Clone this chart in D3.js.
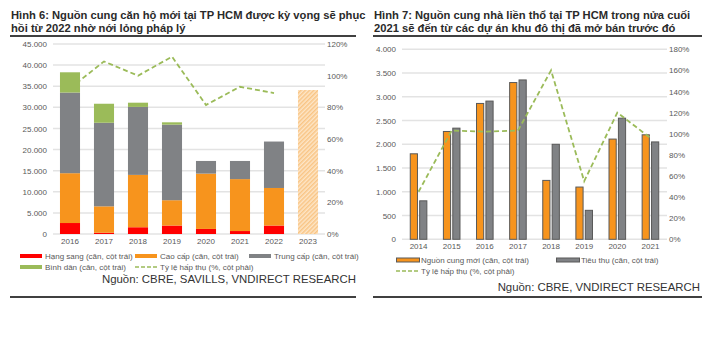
<!DOCTYPE html>
<html>
<head>
<meta charset="utf-8">
<script src="https://cdn.jsdelivr.net/npm/d3@7"></script>
<style>
  body { margin: 0; background: #fff; }
  svg { font-family: "Liberation Sans", Arial, sans-serif; }
  .tick text { fill: #595959; font-size: 8px; }
</style>
</head>
<body>
<div id="chart"></div>
<script>
//-------------------------- DATA --------------------------//
// Hinh 6: can ho (units)
var years6 = ["2016", "2017", "2018", "2019", "2020", "2021", "2022", "2023"];
var hangSang = [2600, 300, 1600, 2000, 1200, 700, 2000, 0];
var caoCap   = [11800, 6250, 12400, 6000, 13100, 12300, 8900, 0];
var trungCap = [19100, 19800, 16100, 17900, 3000, 4300, 11000, 0];
var binhDan  = [4800, 4500, 1000, 550, 0, 0, 0, 0];
var forecast2023 = 34100;
var hapThu6  = [0.92, 1.09, 1.00, 1.12, 0.815, 0.93, 0.89];

// Hinh 7: nha lien tho
var years7 = ["2014", "2015", "2016", "2017", "2018", "2019", "2020", "2021"];
var nguonCung = [1800, 2270, 2860, 3300, 1240, 1100, 2110, 2200];
var tieuThu   = [810, 2340, 2910, 3355, 2000, 610, 2550, 2050];
var hapThu7   = [0.45, 1.03, 1.02, 1.03, 1.60, 0.55, 1.20, 0.96];

var leftTicks6 = d3.range(0, 45001, 5000);
var rightTicks6 = d3.range(0, 1.21, 0.2);
var leftTicks7 = d3.range(0, 4001, 500);
var rightTicks7 = d3.range(0, 1.81, 0.2);

//-------------------------- SETUP --------------------------//
var W = 720, H = 342;
var svg = d3.select("#chart").append("svg")
    .attr("width", W).attr("height", H);

var vn = d3.formatLocale({decimal: ",", thousands: ".", grouping: [3], currency: ["", ""]});
var fmtNum = vn.format(",.0f");
var fmtPct = d3.format(".0%");

var cRed = "#ff0000", cOrange = "#f7941d", cGray = "#808285", cGreen = "#9bbb59";
var grid = "#e3e3e3";

var defs = svg.append("defs");
var pat = defs.append("pattern")
    .attr("id", "hatch")
    .attr("patternUnits", "userSpaceOnUse")
    .attr("width", 3).attr("height", 3)
    .attr("patternTransform", "rotate(45)");
pat.append("rect").attr("width", 3).attr("height", 3).attr("fill", "#fde6c8");
pat.append("rect").attr("width", 1.5).attr("height", 3).attr("fill", "#f9c585");

// title + rules
function header(x, x2, lines) {
    svg.append("text")
        .attr("x", x).attr("y", 19)
        .style("font-size", "11.2px").style("font-weight", "bold").style("fill", "#2a2a2a")
        .selectAll("tspan").data(lines).enter().append("tspan")
        .attr("x", x).attr("dy", function(d, i) { return i ? 13 : 0; })
        .text(function(d) { return d; });
    svg.append("line").attr("x1", x - 1).attr("x2", x2).attr("y1", 36).attr("y2", 36)
        .attr("stroke", "#000").attr("stroke-width", 1.5);
    svg.append("line").attr("x1", x - 1).attr("x2", x2).attr("y1", 297).attr("y2", 297)
        .attr("stroke", "#000").attr("stroke-width", 1.5);
}

function axesAndGrid(x0, x1, y, yR, lt, rt, cats, xs, xLabelY) {
    var g = svg.append("g");
    g.selectAll(".grid").data(lt).enter().append("line")
        .attr("x1", x0).attr("x2", x1)
        .attr("y1", function(d) { return y(d); }).attr("y2", function(d) { return y(d); })
        .attr("stroke", grid).attr("stroke-width", 1.5);

    var la = svg.append("g").attr("transform", "translate(" + (x0 - 4) + ",0)")
        .call(d3.axisLeft(y).tickValues(lt).tickFormat(fmtNum).tickSize(0).tickPadding(2));
    la.select(".domain").remove();

    var ra = svg.append("g").attr("transform", "translate(" + (x1 + 1) + ",0)")
        .call(d3.axisRight(yR).tickValues(rt).tickFormat(fmtPct).tickSize(0).tickPadding(1));
    ra.select(".domain").remove();

    var xa = svg.append("g").attr("transform", "translate(0," + xLabelY + ")")
        .call(d3.axisBottom(xs).tickSize(0).tickPadding(0));
    xa.select(".domain").remove();
}

//-------------------------- HINH 6 --------------------------//
header(11, 356, ["Hình 6: Nguồn cung căn hộ mới tại TP HCM được kỳ vọng sẽ phục",
                 "hồi từ 2022 nhờ nới lỏng pháp lý"]);

var x6 = d3.scaleBand().domain(years6).range([53, 325]);
var y6 = d3.scaleLinear().domain([0, 45000]).range([234, 44]);
var y6r = d3.scaleLinear().domain([0, 1.2]).range([234, 44]);
axesAndGrid(53, 325, y6, y6r, leftTicks6, rightTicks6, years6, x6, 238);

// absorption line (sits behind bars)
var line6 = d3.line()
    .x(function(d, i) { return x6(years6[i]) + x6.bandwidth() / 2; })
    .y(function(d) { return y6r(d); });
svg.append("path").datum(hapThu6)
    .attr("d", line6)
    .attr("fill", "none").attr("stroke", cGreen)
    .attr("stroke-width", 1.8).attr("stroke-dasharray", "5,3");

var series6 = [hangSang, caoCap, trungCap, binhDan];
var colors6 = [cRed, cOrange, cGray, cGreen];
var bw6 = x6.bandwidth() * 0.59;
var stacked = d3.stack().keys([0, 1, 2, 3])
    .value(function(i, k) { return series6[k][i]; })(d3.range(years6.length));

svg.append("g").selectAll("g").data(stacked).enter().append("g")
    .attr("fill", function(d, k) { return colors6[k]; })
    .selectAll("rect").data(function(d) { return d; }).enter().append("rect")
    .attr("x", function(d, i) { return x6(years6[i]) + (x6.bandwidth() - bw6) / 2; })
    .attr("width", bw6)
    .attr("y", function(d) { return y6(d[1]); })
    .attr("height", function(d) { return y6(d[0]) - y6(d[1]); });

svg.append("rect")
    .attr("x", x6("2023") + (x6.bandwidth() - bw6) / 2)
    .attr("width", bw6)
    .attr("y", y6(forecast2023))
    .attr("height", y6(0) - y6(forecast2023))
    .attr("fill", "url(#hatch)");

//-------------------------- HINH 7 --------------------------//
header(374, 702, ["Hình 7: Nguồn cung nhà liền thổ tại TP HCM trong nửa cuối",
                  "2021 sẽ đến từ các dự án khu đô thị đã mở bán trước đó"]);

var x7 = d3.scaleBand().domain(years7).range([402, 667]);
var y7 = d3.scaleLinear().domain([0, 4000]).range([239.3, 49.3]);
var y7r = d3.scaleLinear().domain([0, 1.8]).range([239.3, 49.3]);
axesAndGrid(402, 667, y7, y7r, leftTicks7, rightTicks7, years7, x7, 243);

var line7 = d3.line()
    .x(function(d, i) { return x7(years7[i]) + x7.bandwidth() / 2; })
    .y(function(d) { return y7r(d); });

var bw7 = 7.2;
var g7 = svg.append("g");
g7.selectAll(".nc").data(nguonCung).enter().append("rect")
    .attr("x", function(d, i) { return x7(years7[i]) + x7.bandwidth() / 2 - 8.3; })
    .attr("width", bw7)
    .attr("y", function(d) { return y7(d); })
    .attr("height", function(d) { return y7(0) - y7(d); })
    .attr("fill", cOrange).attr("stroke", "#595959").attr("stroke-width", 1);
g7.selectAll(".tt").data(tieuThu).enter().append("rect")
    .attr("x", function(d, i) { return x7(years7[i]) + x7.bandwidth() / 2 + 1.1; })
    .attr("width", bw7)
    .attr("y", function(d) { return y7(d); })
    .attr("height", function(d) { return y7(0) - y7(d); })
    .attr("fill", cGray).attr("stroke", "#595959").attr("stroke-width", 1);

svg.append("path").datum(hapThu7)
    .attr("d", line7)
    .attr("fill", "none").attr("stroke", cGreen)
    .attr("stroke-width", 1.8).attr("stroke-dasharray", "5,3");

//-------------------------- LEGENDS --------------------------//
function legendItem(x, y, kind, color, label) {
    if (kind === "bar") {
        svg.append("rect").attr("x", x).attr("y", y - 2).attr("width", 22).attr("height", 4).attr("fill", color);
    } else if (kind === "box") {
        svg.append("rect").attr("x", x + 0.5).attr("y", y - 2).attr("width", 23).attr("height", 4)
            .attr("fill", color).attr("stroke", "#595959").attr("stroke-width", 1);
    } else {
        svg.append("line").attr("x1", x).attr("x2", x + 22).attr("y1", y).attr("y2", y)
            .attr("stroke", color).attr("stroke-width", 1.5).attr("stroke-dasharray", "4,2");
    }
    svg.append("text").attr("x", x + 25).attr("y", y + 3)
        .style("font-size", "8px").style("fill", "#595959").text(label);
}

legendItem(20, 256, "bar", cRed, "Hạng sang (căn, cột trái)");
legendItem(135, 256, "bar", cOrange, "Cao cấp (căn, cột trái)");
legendItem(249, 256, "bar", cGray, "Trung cấp (căn, cột trái)");
legendItem(20, 267, "bar", cGreen, "Bình dân (căn, cột trái)");
legendItem(135, 267, "dash", cGreen, "Tỷ lệ hấp thụ (%, cột phải)");

legendItem(396, 260, "box", cOrange, "Nguồn cung mới (căn, cột trái)");
legendItem(556, 260, "box", cGray, "Tiêu thụ (căn, cột trái)");
legendItem(396, 271, "dash", cGreen, "Tỷ lệ hấp thụ (%, cột phải)");

svg.append("text").attr("x", 356).attr("y", 283).attr("text-anchor", "end")
    .style("font-size", "11.4px").style("fill", "#333")
    .text("Nguồn: CBRE, SAVILLS, VNDIRECT RESEARCH");
svg.append("text").attr("x", 700).attr("y", 291).attr("text-anchor", "end")
    .style("font-size", "11.4px").style("fill", "#333")
    .text("Nguồn: CBRE, VNDIRECT RESEARCH");
</script>
</body>
</html>
